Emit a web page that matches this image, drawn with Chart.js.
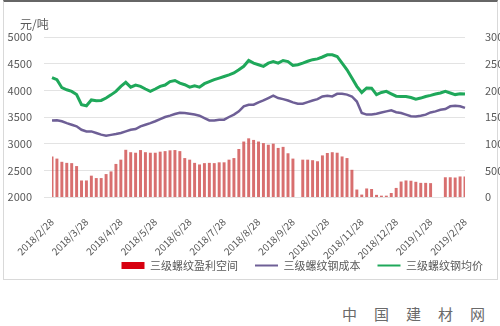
<!DOCTYPE html>
<html>
<head>
<meta charset="utf-8">
<script src="https://cdn.jsdelivr.net/npm/chart.js@4"></script>
<style>
	body { margin: 0; background: #fff; }
	#wrap { position: relative; width: 500px; height: 326px; overflow: hidden; }
	#box { position: absolute; left: 3px; top: 0; width: 495px; height: 280px; box-sizing: border-box; border: 1px solid #d9d9d9; border-top: 2px solid #666; }
	#chart { position: absolute; left: 0; top: 0; }
	#mark { position: absolute; left: 342px; top: 303px; font: 15px "Noto Sans CJK SC"; color: #6a6a6a; letter-spacing: 17px; white-space: nowrap; }
</style>
</head>
<body>
<div id="wrap">
	<div id="box"></div>
	<canvas id="chart" width="500" height="300"></canvas>
	<div id="mark">中国建材网</div>
</div>
<script>
// Data (one point every ~4 days, 7 points per month)
const monthLabels = ['2018/2/28', '2018/3/28', '2018/4/28', '2018/5/28', '2018/6/28', '2018/7/28', '2018/8/28',
	'2018/9/28', '2018/10/28', '2018/11/28', '2018/12/28', '2019/1/28', '2019/2/28'];
const pointsPerMonth = 7;

const seriesNames = ['三级螺纹盈利空间', '三级螺纹钢成本', '三级螺纹钢均价'];

// 盈利空间 (right axis)
const profit = [
	760, 720, 660, 640, 635, 580, 310, 310, 400, 355, 355, 430, 480, 620, 700,
	885, 840, 830, 880, 840, 830, 830, 850, 860, 875, 880, 860, 730, 700, 640,
	610, 635, 640, 635, 650, 650, 700, 730, 900, 1040, 1100, 1070, 1040, 1010, 980,
	1000, 920, 940, 820, 720, null, 700, 700, 690, 670, 780, 825, 840, 830, 760,
	730, 510, 140, 45, 160, 150, 40, 25, 25, 75, 170, 290, 310, 305, 285,
	265, 265, 260, null, null, 370, 370, 365, 385, 385
];

// 成本 (left axis)
const cost = [
	3435, 3440, 3420, 3385, 3355, 3325, 3260, 3230, 3230, 3200, 3170, 3150, 3165, 3180, 3200,
	3230, 3260, 3275, 3325, 3355, 3385, 3420, 3460, 3500, 3525, 3555, 3580, 3575, 3560, 3545,
	3525, 3480, 3435, 3435, 3450, 3450, 3500, 3545, 3605, 3700, 3730, 3730, 3775, 3810, 3855,
	3900, 3855, 3835, 3810, 3775, 3750, 3750, 3780, 3810, 3835, 3885, 3900, 3885, 3935, 3935,
	3920, 3885, 3790, 3575, 3545, 3545, 3560, 3585, 3605, 3625, 3590, 3575, 3545, 3515, 3510,
	3525, 3545, 3585, 3605, 3635, 3650, 3700, 3710, 3700, 3670
];

// 均价 (left axis)
const price = [
	4240, 4200, 4050, 4010, 3980, 3920, 3730, 3710, 3820, 3805, 3810, 3855, 3915, 3980, 4075,
	4150, 4060, 4100, 4075, 4025, 3980, 4025, 4075, 4100, 4165, 4185, 4135, 4105, 4060, 4085,
	4060, 4125, 4165, 4200, 4230, 4260, 4290, 4325, 4385, 4450, 4560, 4510, 4480, 4450, 4510,
	4540, 4510, 4560, 4540, 4465, 4480, 4510, 4545, 4575, 4590, 4625, 4665, 4665, 4635, 4510,
	4385, 4230, 4075, 3960, 4045, 4040, 3920, 3960, 3980, 3935, 3890, 3885, 3885, 3865, 3835,
	3855, 3885, 3905, 3930, 3950, 3980, 3950, 3920, 3935, 3930
];

const categories = profit.map((_, i) => (i % pointsPerMonth === 0 ? monthLabels[i / pointsPerMonth] : ''));

const textColor = '#595959';
const fontFamily = '"Noto Sans CJK SC", "Noto Sans", sans-serif';
const legendColors = ['#d7000f', '#6e5f96', '#1fa85a'];

// Draws the unit label above the left axis
const unitLabel = {
	id: 'unitLabel',
	afterDraw(chart) {
		const { ctx, chartArea } = chart;
		ctx.save();
		ctx.font = '12px ' + fontFamily;
		ctx.fillStyle = textColor;
		ctx.textAlign = 'left';
		ctx.textBaseline = 'middle';
		ctx.fillText('元/吨', 20, chartArea.top - 13);
		ctx.restore();
	}
};

// HACK: pull the legend up closer to the rotated date labels
const legendNudge = {
	id: 'legendNudge',
	afterLayout(chart) {
		const legend = chart.legend;
		legend.top -= 19;
		legend.bottom -= 19;
	}
};

const plainNumber = (value) => String(value);

new Chart(document.getElementById('chart'), {
	type: 'bar',
	data: {
		labels: categories,
		datasets: [
			{
				type: 'bar',
				label: seriesNames[0],
				data: profit,
				yAxisID: 'y1',
				backgroundColor: 'rgba(205, 70, 70, 0.78)',
				barPercentage: 0.6,
				categoryPercentage: 1
			},
			{
				type: 'line',
				label: seriesNames[1],
				data: cost,
				yAxisID: 'y',
				borderColor: '#6e5f96',
				borderWidth: 2.5,
				pointRadius: 0,
				tension: 0
			},
			{
				type: 'line',
				label: seriesNames[2],
				data: price,
				yAxisID: 'y',
				borderColor: '#1fa85a',
				borderWidth: 3,
				pointRadius: 0,
				tension: 0
			}
		]
	},
	options: {
		responsive: false,
		animation: false,
		layout: { padding: { top: 37, left: 0, right: 0, bottom: 0 } },
		plugins: {
			tooltip: { enabled: false },
			legend: {
				position: 'bottom',
				align: 'end',
				labels: {
					usePointStyle: true,
					pointStyleWidth: 23,
					boxHeight: 7,
					padding: 17,
					color: textColor,
					font: { family: fontFamily, size: 11 },
					generateLabels(chart) {
						const items = Chart.defaults.plugins.legend.labels.generateLabels(chart);
						items.forEach((item, i) => {
							item.pointStyle = i === 0 ? 'rect' : 'line';
							item.fillStyle = legendColors[i];
							item.strokeStyle = legendColors[i];
							item.lineWidth = i === 0 ? 0 : 2;
						});
						return items;
					}
				}
			}
		},
		scales: {
			x: {
				offset: false,
				grid: { display: false, drawTicks: false },
				border: { display: false },
				ticks: {
					autoSkip: false,
					minRotation: 45,
					maxRotation: 45,
					padding: 19,
					color: textColor,
					font: { family: fontFamily, size: 10 }
				},
				afterFit(scale) { scale.height = 65; }
			},
			y: {
				position: 'left',
				min: 2000,
				max: 5000,
				grid: { color: '#e3e3e3' },
				border: { display: false },
				ticks: { stepSize: 500, padding: 12, color: textColor, font: { family: fontFamily, size: 11 }, callback: plainNumber },
				afterFit(scale) { scale.width = 45; }
			},
			y1: {
				position: 'right',
				min: 0,
				max: 3000,
				grid: { display: false },
				border: { display: false },
				ticks: { stepSize: 500, padding: 12, color: textColor, font: { family: fontFamily, size: 11 }, callback: plainNumber },
				afterFit(scale) { scale.width = 35; }
			}
		}
	},
	plugins: [unitLabel, legendNudge]
});
</script>
</body>
</html>
